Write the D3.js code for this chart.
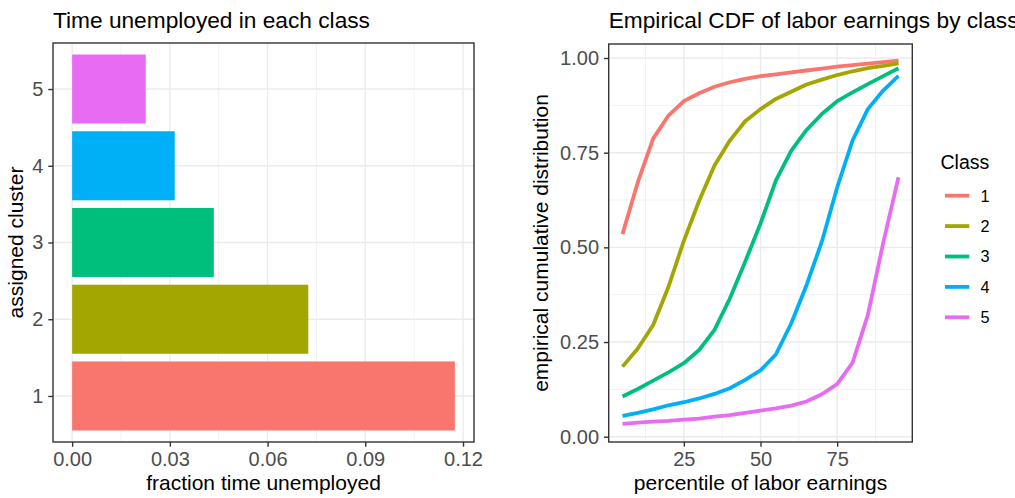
<!DOCTYPE html>
<html>
<head>
<meta charset="utf-8">
<script src="https://cdn.jsdelivr.net/npm/d3@7"></script>
<style>
  html, body { margin: 0; padding: 0; background: #ffffff; }
  svg { display: block; font-family: "Liberation Sans", Arial, Helvetica, sans-serif; }
</style>
</head>
<body>
<svg id="chart" width="1015" height="498"></svg>
<script>
// ---- data ----
const clusters = [1, 2, 3, 4, 5];
const unemployedFraction = [0.1175, 0.0725, 0.0435, 0.0315, 0.0226];
const classColors = ["#F8766D", "#A3A500", "#00BF7D", "#00B0F6", "#E76BF3"];
const barTicks = [0, 0.03, 0.06, 0.09, 0.12];

const percentiles = [5, 10, 15, 20, 25, 30, 35, 40, 45, 50, 55, 60, 65, 70, 75, 80, 85, 90, 95];
const cdfClass1 = [0.535, 0.672, 0.787, 0.848, 0.886, 0.907, 0.924, 0.936, 0.945, 0.952, 0.957, 0.962, 0.967, 0.972, 0.977, 0.981, 0.985, 0.989, 0.993];
const cdfClass2 = [0.185, 0.233, 0.295, 0.396, 0.517, 0.623, 0.716, 0.782, 0.833, 0.865, 0.892, 0.911, 0.930, 0.943, 0.955, 0.965, 0.973, 0.979, 0.986];
const cdfClass3 = [0.106, 0.126, 0.148, 0.170, 0.194, 0.229, 0.282, 0.365, 0.462, 0.563, 0.676, 0.755, 0.810, 0.852, 0.886, 0.909, 0.931, 0.952, 0.973];
const cdfClass4 = [0.055, 0.063, 0.072, 0.083, 0.091, 0.101, 0.113, 0.128, 0.150, 0.175, 0.217, 0.299, 0.400, 0.515, 0.658, 0.782, 0.865, 0.914, 0.953];
const cdfClass5 = [0.034, 0.037, 0.040, 0.042, 0.045, 0.048, 0.053, 0.057, 0.063, 0.069, 0.075, 0.082, 0.093, 0.112, 0.139, 0.195, 0.321, 0.511, 0.685];
const cdfSeries = [cdfClass1, cdfClass2, cdfClass3, cdfClass4, cdfClass5];
const cdfXTicks = [25, 50, 75];
const cdfYTicks = [0, 0.25, 0.5, 0.75, 1];

// ---- shared styling ----
const GRID = "#EBEBEB", INK = "#333333", TICK_TEXT = "#4D4D4D";
const TICK_FONT = 20, AXIS_TITLE_FONT = 21, TITLE_FONT = 22.7;

const svg = d3.select("#chart");

function styleAxis(g) {
  g.select(".domain").remove();
  g.selectAll(".tick line").attr("stroke", INK).attr("stroke-width", 1.4);
  g.selectAll(".tick text")
    .attr("fill", TICK_TEXT)
    .style("font-size", TICK_FONT + "px")
    .style("font-family", "'Liberation Sans', Arial, Helvetica, sans-serif");
}

function midpoints(ticks) {
  const out = [];
  for (let i = 0; i < ticks.length - 1; i++) out.push((ticks[i] + ticks[i + 1]) / 2);
  return out;
}

// ---- left panel: bar chart ----
{
  const panel = { left: 53, right: 474, top: 43, bottom: 442 };
  const maxV = d3.max(unemployedFraction);
  const pad = 0.05 * maxV;
  const x = d3.scaleLinear().domain([-pad, maxV + pad]).range([panel.left, panel.right]);
  const y = d3.scaleLinear().domain([0.4, 5.6]).range([panel.bottom, panel.top]);

  const g = svg.append("g");
  g.append("rect").attr("x", panel.left).attr("y", panel.top)
    .attr("width", panel.right - panel.left).attr("height", panel.bottom - panel.top)
    .attr("fill", "#ffffff");

  g.selectAll("line.minor-x").data(midpoints(barTicks)).join("line")
    .attr("x1", d => x(d)).attr("x2", d => x(d))
    .attr("y1", panel.top).attr("y2", panel.bottom)
    .attr("stroke", GRID).attr("stroke-width", 0.7);
  g.selectAll("line.major-x").data(barTicks).join("line")
    .attr("x1", d => x(d)).attr("x2", d => x(d))
    .attr("y1", panel.top).attr("y2", panel.bottom)
    .attr("stroke", GRID).attr("stroke-width", 1.4);
  g.selectAll("line.major-y").data(clusters).join("line")
    .attr("x1", panel.left).attr("x2", panel.right)
    .attr("y1", d => y(d)).attr("y2", d => y(d))
    .attr("stroke", GRID).attr("stroke-width", 1.4);

  g.selectAll("rect.bar").data(clusters).join("rect")
    .attr("x", x(0))
    .attr("y", d => y(d + 0.45))
    .attr("width", (d, i) => x(unemployedFraction[i]) - x(0))
    .attr("height", d => y(d - 0.45) - y(d + 0.45))
    .attr("fill", (d, i) => classColors[i]);

  g.append("rect").attr("x", panel.left).attr("y", panel.top)
    .attr("width", panel.right - panel.left).attr("height", panel.bottom - panel.top)
    .attr("fill", "none").attr("stroke", INK).attr("stroke-width", 1.4);

  g.append("g").attr("transform", `translate(0,${panel.bottom})`)
    .call(d3.axisBottom(x).tickValues(barTicks).tickFormat(d3.format(".2f"))
      .tickSize(4.7).tickPadding(5))
    .call(styleAxis);
  g.append("g").attr("transform", `translate(${panel.left},0)`)
    .call(d3.axisLeft(y).tickValues(clusters).tickFormat(d3.format("d"))
      .tickSize(4.7).tickPadding(5))
    .call(styleAxis);

  g.append("text").attr("x", panel.left).attr("y", 28)
    .style("font-size", TITLE_FONT + "px").attr("fill", "#000")
    .text("Time unemployed in each class");
  g.append("text").attr("x", (panel.left + panel.right) / 2).attr("y", 490)
    .attr("text-anchor", "middle").style("font-size", AXIS_TITLE_FONT + "px")
    .text("fraction time unemployed");
  g.append("text")
    .attr("transform", `translate(22.5,${(panel.top + panel.bottom) / 2}) rotate(-90)`)
    .attr("text-anchor", "middle").style("font-size", AXIS_TITLE_FONT + "px")
    .text("assigned cluster");
}

// ---- right panel: empirical CDF lines ----
{
  const panel = { left: 608.7, right: 912.3, top: 44, bottom: 442 };
  const xExt = d3.extent(percentiles);
  const xPad = 0.05 * (xExt[1] - xExt[0]);
  const x = d3.scaleLinear().domain([xExt[0] - xPad, xExt[1] + xPad]).range([panel.left, panel.right]);
  const y = d3.scaleLinear().domain([-0.014, 1.037]).range([panel.bottom, panel.top]);

  const g = svg.append("g");
  g.append("rect").attr("x", panel.left).attr("y", panel.top)
    .attr("width", panel.right - panel.left).attr("height", panel.bottom - panel.top)
    .attr("fill", "#ffffff");

  const xMinor = [12.5, 37.5, 62.5, 87.5];
  g.selectAll("line.minor-x").data(xMinor).join("line")
    .attr("x1", d => x(d)).attr("x2", d => x(d))
    .attr("y1", panel.top).attr("y2", panel.bottom)
    .attr("stroke", GRID).attr("stroke-width", 0.7);
  g.selectAll("line.minor-y").data(midpoints(cdfYTicks)).join("line")
    .attr("x1", panel.left).attr("x2", panel.right)
    .attr("y1", d => y(d)).attr("y2", d => y(d))
    .attr("stroke", GRID).attr("stroke-width", 0.7);
  g.selectAll("line.major-x").data(cdfXTicks).join("line")
    .attr("x1", d => x(d)).attr("x2", d => x(d))
    .attr("y1", panel.top).attr("y2", panel.bottom)
    .attr("stroke", GRID).attr("stroke-width", 1.4);
  g.selectAll("line.major-y").data(cdfYTicks).join("line")
    .attr("x1", panel.left).attr("x2", panel.right)
    .attr("y1", d => y(d)).attr("y2", d => y(d))
    .attr("stroke", GRID).attr("stroke-width", 1.4);

  const line = d3.line().x((d, i) => x(percentiles[i])).y(d => y(d));
  g.selectAll("path.cdf").data(cdfSeries).join("path")
    .attr("d", line)
    .attr("fill", "none")
    .attr("stroke", (d, i) => classColors[i])
    .attr("stroke-width", 3.8)
    .attr("stroke-linejoin", "round")
    .attr("stroke-linecap", "butt");

  g.append("rect").attr("x", panel.left).attr("y", panel.top)
    .attr("width", panel.right - panel.left).attr("height", panel.bottom - panel.top)
    .attr("fill", "none").attr("stroke", INK).attr("stroke-width", 1.4);

  g.append("g").attr("transform", `translate(0,${panel.bottom})`)
    .call(d3.axisBottom(x).tickValues(cdfXTicks).tickFormat(d3.format("d"))
      .tickSize(4.7).tickPadding(5))
    .call(styleAxis);
  g.append("g").attr("transform", `translate(${panel.left},0)`)
    .call(d3.axisLeft(y).tickValues(cdfYTicks).tickFormat(d3.format(".2f"))
      .tickSize(4.7).tickPadding(5))
    .call(styleAxis);

  g.append("text").attr("x", panel.left).attr("y", 28)
    .style("font-size", TITLE_FONT + "px").attr("fill", "#000")
    .text("Empirical CDF of labor earnings by class");
  g.append("text").attr("x", (panel.left + panel.right) / 2).attr("y", 490)
    .attr("text-anchor", "middle").style("font-size", AXIS_TITLE_FONT + "px")
    .text("percentile of labor earnings");
  g.append("text")
    .attr("transform", `translate(548,${(panel.top + panel.bottom) / 2}) rotate(-90)`)
    .attr("text-anchor", "middle").style("font-size", AXIS_TITLE_FONT + "px")
    .text("empirical cumulative distribution");

  // legend
  const legend = svg.append("g");
  legend.append("text").attr("x", 940.5).attr("y", 169.3)
    .style("font-size", "19.5px").text("Class");
  const keyY = d3.scalePoint().domain(clusters).range([195.7, 317.3]);
  legend.selectAll("line.key").data(clusters).join("line")
    .attr("x1", 945).attr("x2", 969.3)
    .attr("y1", d => keyY(d)).attr("y2", d => keyY(d))
    .attr("stroke", (d, i) => classColors[i]).attr("stroke-width", 3.8);
  legend.selectAll("text.key").data(clusters).join("text")
    .attr("x", 980.5).attr("y", d => keyY(d)).attr("dy", "0.36em")
    .style("font-size", "16.3px").text(d => d);
}
</script>
</body>
</html>
